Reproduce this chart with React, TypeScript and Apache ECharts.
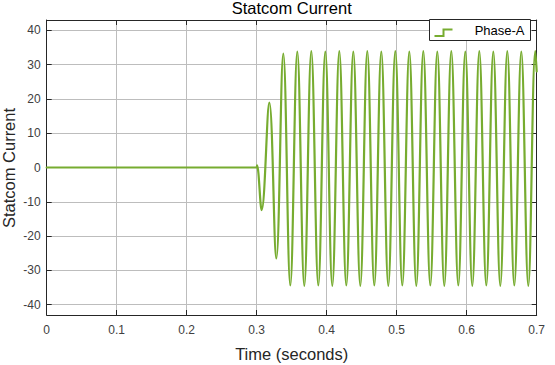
import React, { useEffect, useRef } from "react";
import * as echarts from "echarts";

// Time samples (s) at the waveform's turning points
const times = [
  0, 0.3, 0.3005, 0.307, 0.318, 0.328,
  0.338, 0.348, 0.358, 0.368, 0.378, 0.388, 0.398, 0.408, 0.418, 0.428,
  0.438, 0.448, 0.458, 0.468, 0.478, 0.488, 0.498, 0.508, 0.518, 0.528,
  0.538, 0.548, 0.558, 0.568, 0.578, 0.588, 0.598, 0.608, 0.618, 0.628,
  0.638, 0.648, 0.658, 0.668, 0.678, 0.688, 0.698, 0.7,
];
// Phase-A current at those times
const phaseA = [
  0, 0, 0.6, -12.4, 18.9, -26.5,
  33.2, -34.4, 33.8, -34.5, 33.9, -34.4, 33.8, -34.5, 33.9, -34.4,
  33.8, -34.5, 33.9, -34.4, 33.8, -34.5, 33.9, -34.4, 33.8, -34.5,
  33.9, -34.4, 33.8, -34.5, 33.9, -34.4, 33.8, -34.5, 33.9, -34.4,
  33.8, -34.5, 33.9, -34.4, 33.8, -34.5, 33.9, 28,
];
const yTicks = [-40, -30, -20, -10, 0, 10, 20, 30, 40];
const seriesName = "Phase-A";
const titleText = "Statcom Current";
const xName = "Time (seconds)";
const yName = "Statcom Current";

const FONT = "Liberation Sans, Arial, sans-serif";
const AX = "#262626";
const GRID = "#bdbdbd";
const LINE = "#77AC30";

export default function App() {
  const ref = useRef<HTMLDivElement>(null);
  useEffect(() => {
    if (!ref.current) return;
    const chart = echarts.init(ref.current, null, { renderer: "svg" });
    const L = 46.7, R = 536.7, T = 20, B = 315;
    const tickCommon = { inside: true, length: 5, lineStyle: { color: AX, width: 1 } };
    const axisLine = { show: true, onZero: false, lineStyle: { color: AX, width: 1 } };
    chart.setOption({
      animation: false,
      backgroundColor: "#ffffff",
      grid: { left: L, right: 555 - R, top: T, bottom: 365 - B, containLabel: false },
      xAxis: [
        {
          type: "value", min: 0, max: 0.7, interval: 0.1, position: "bottom",
          axisLine,
          axisTick: tickCommon,
          axisLabel: { color: "#404040", fontSize: 12, fontFamily: FONT, margin: 9 },
          splitLine: { show: true, lineStyle: { color: GRID, width: 1 } },
        },
        {
          type: "value", min: 0, max: 0.7, interval: 0.1, position: "top",
          axisLine,
          axisTick: tickCommon,
          axisLabel: { show: false },
          splitLine: { show: false },
        },
      ],
      yAxis: [
        {
          type: "value", min: -43, max: 43, position: "left",
          axisLine,
          axisTick: { ...tickCommon, customValues: yTicks },
          axisLabel: { color: "#404040", fontSize: 12, fontFamily: FONT, margin: 6, customValues: yTicks },
          splitLine: { show: true, lineStyle: { color: GRID, width: 1 } },
        },
        {
          type: "value", min: -43, max: 43, position: "right",
          axisLine,
          axisTick: { ...tickCommon, customValues: yTicks },
          axisLabel: { show: false, customValues: yTicks },
          splitLine: { show: false },
        },
      ],
      series: [
        {
          name: seriesName,
          type: "line",
          xAxisIndex: 0,
          yAxisIndex: 0,
          data: times.map((t, i) => [t, phaseA[i]]),
          showSymbol: false,
          smooth: 0.4,
          clip: true,
          lineStyle: { color: LINE, width: 2.2, join: "round", cap: "round" },
          z: 3,
        },
      ],
      graphic: [
        {
          type: "text", x: (L + R) / 2, y: 8, z: 100,
          style: { text: titleText, fill: "#000000", font: `16.5px ${FONT}`, textAlign: "center", textVerticalAlign: "middle" },
        },
        {
          type: "text", x: (L + R) / 2, y: 353.5, z: 100,
          style: { text: xName, fill: AX, font: `16.5px ${FONT}`, textAlign: "center", textVerticalAlign: "middle" },
        },
        {
          type: "text", x: 8.5, y: 168, rotation: Math.PI / 2, z: 100,
          style: { text: yName, fill: AX, font: `16.5px ${FONT}`, textAlign: "center", textVerticalAlign: "middle" },
        },
        {
          type: "rect", z: 100,
          shape: { x: 429.5, y: 19.5, width: 101, height: 21 },
          style: { fill: "#ffffff", stroke: AX, lineWidth: 1 },
        },
        {
          type: "polyline", z: 101,
          shape: { points: [[434.5, 36], [443.5, 36], [443.5, 29.5], [452.5, 29.5]] },
          style: { stroke: LINE, lineWidth: 2, fill: null },
        },
        {
          type: "text", x: 524.5, y: 30.5, z: 101,
          style: { text: seriesName, fill: "#000000", font: `13px ${FONT}`, textAlign: "right", textVerticalAlign: "middle" },
        },
      ],
    });
    return () => chart.dispose();
  }, []);
  return (
    <div
      ref={ref}
      style={{ position: "absolute", left: 0, top: 0, width: 555, height: 365, background: "#ffffff" }}
    />
  );
}
